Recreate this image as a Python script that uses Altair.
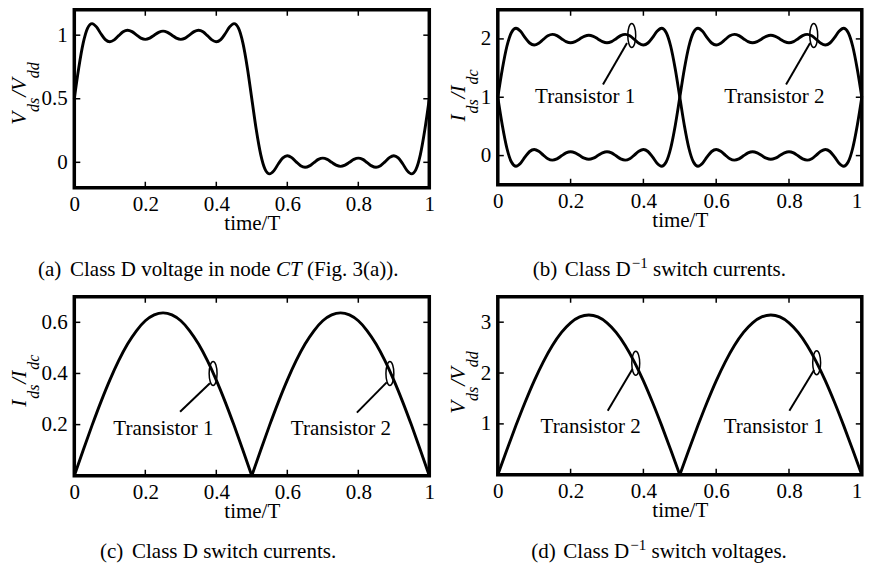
import altair as alt
import pandas as pd

FONT = "Liberation Serif, Times New Roman, Times, serif"

# ---------------- data ----------------
T81 = [0.0, 0.0125, 0.025, 0.0375, 0.05, 0.0625, 0.075, 0.0875,
       0.1, 0.1125, 0.125, 0.1375, 0.15, 0.1625, 0.175, 0.1875,
       0.2, 0.2125, 0.225, 0.2375, 0.25, 0.2625, 0.275, 0.2875,
       0.3, 0.3125, 0.325, 0.3375, 0.35, 0.3625, 0.375, 0.3875,
       0.4, 0.4125, 0.425, 0.4375, 0.45, 0.4625, 0.475, 0.4875,
       0.5, 0.5125, 0.525, 0.5375, 0.55, 0.5625, 0.575, 0.5875,
       0.6, 0.6125, 0.625, 0.6375, 0.65, 0.6625, 0.675, 0.6875,
       0.7, 0.7125, 0.725, 0.7375, 0.75, 0.7625, 0.775, 0.7875,
       0.8, 0.8125, 0.825, 0.8375, 0.85, 0.8625, 0.875, 0.8875,
       0.9, 0.9125, 0.925, 0.9375, 0.95, 0.9625, 0.975, 0.9875,
       1.0]

# (a) Vds/Vdd, class D node CT
VA = [0.500, 0.742, 0.937, 1.055, 1.091, 1.065, 1.011, 0.965,
      0.948, 0.963, 0.996, 1.027, 1.039, 1.028, 1.002, 0.977,
      0.967, 0.977, 1.000, 1.022, 1.032, 1.022, 1.000, 0.977,
      0.967, 0.977, 1.002, 1.028, 1.039, 1.027, 0.996, 0.963,
      0.948, 0.965, 1.011, 1.065, 1.091, 1.055, 0.937, 0.742,
      0.500, 0.258, 0.063, -0.055, -0.091, -0.065, -0.011, 0.035,
      0.052, 0.037, 0.004, -0.027, -0.039, -0.028, -0.002, 0.023,
      0.033, 0.023, 0.000, -0.022, -0.032, -0.022, 0.000, 0.023,
      0.033, 0.023, -0.002, -0.028, -0.039, -0.027, 0.004, 0.037,
      0.052, 0.035, -0.011, -0.065, -0.091, -0.055, 0.063, 0.258,
      0.500]

# (b) Ids/Idc, class D^-1, transistor 1 and 2
IB1 = [1.000, 1.484, 1.874, 2.110, 2.182, 2.130, 2.022, 1.930,
       1.896, 1.926, 1.992, 2.054, 2.078, 2.056, 2.004, 1.954,
       1.934, 1.954, 2.000, 2.044, 2.064, 2.044, 2.000, 1.954,
       1.934, 1.954, 2.004, 2.056, 2.078, 2.054, 1.992, 1.926,
       1.896, 1.930, 2.022, 2.130, 2.182, 2.110, 1.874, 1.484,
       1.000, 0.516, 0.126, -0.110, -0.182, -0.130, -0.022, 0.070,
       0.104, 0.074, 0.008, -0.054, -0.078, -0.056, -0.004, 0.046,
       0.066, 0.046, 0.000, -0.044, -0.064, -0.044, 0.000, 0.046,
       0.066, 0.046, -0.004, -0.056, -0.078, -0.054, 0.008, 0.074,
       0.104, 0.070, -0.022, -0.130, -0.182, -0.110, 0.126, 0.516,
       1.000]
IB2 = [1.000, 0.516, 0.126, -0.110, -0.182, -0.130, -0.022, 0.070,
       0.104, 0.074, 0.008, -0.054, -0.078, -0.056, -0.004, 0.046,
       0.066, 0.046, 0.000, -0.044, -0.064, -0.044, 0.000, 0.046,
       0.066, 0.046, -0.004, -0.056, -0.078, -0.054, 0.008, 0.074,
       0.104, 0.070, -0.022, -0.130, -0.182, -0.110, 0.126, 0.516,
       1.000, 1.484, 1.874, 2.110, 2.182, 2.130, 2.022, 1.930,
       1.896, 1.926, 1.992, 2.054, 2.078, 2.056, 2.004, 1.954,
       1.934, 1.954, 2.000, 2.044, 2.064, 2.044, 2.000, 1.954,
       1.934, 1.954, 2.004, 2.056, 2.078, 2.054, 1.992, 1.926,
       1.896, 1.930, 2.022, 2.130, 2.182, 2.110, 1.874, 1.484,
       1.000]

T_H1 = [0.0, 0.025, 0.05, 0.075, 0.1, 0.125, 0.15, 0.175, 0.2, 0.225, 0.25,
        0.275, 0.3, 0.325, 0.35, 0.375, 0.4, 0.425, 0.45, 0.475, 0.5]
T_H2 = [0.5, 0.525, 0.55, 0.575, 0.6, 0.625, 0.65, 0.675, 0.7, 0.725, 0.75,
        0.775, 0.8, 0.825, 0.85, 0.875, 0.9, 0.925, 0.95, 0.975, 1.0]

# (c) Ids/Idc, class D switch currents
IC_1 = [0.000, 0.100, 0.197, 0.289, 0.374, 0.450, 0.515, 0.567, 0.606, 0.629, 0.637,
        0.629, 0.606, 0.567, 0.515, 0.450, 0.374, 0.289, 0.197, 0.100, 0.000]
IC_2 = [0.000, 0.100, 0.197, 0.289, 0.374, 0.450, 0.515, 0.567, 0.606, 0.629, 0.637,
        0.629, 0.606, 0.567, 0.515, 0.450, 0.374, 0.289, 0.197, 0.100, 0.000]

# (d) Vds/Vdd, class D^-1 switch voltages
VD_1 = [0.000, 0.491, 0.971, 1.426, 1.847, 2.221, 2.542, 2.799, 2.988, 3.103, 3.142,
        3.103, 2.988, 2.799, 2.542, 2.221, 1.847, 1.426, 0.971, 0.491, 0.000]
VD_2 = [0.000, 0.491, 0.971, 1.426, 1.847, 2.221, 2.542, 2.799, 2.988, 3.103, 3.142,
        3.103, 2.988, 2.799, 2.542, 2.221, 1.847, 1.426, 0.971, 0.491, 0.000]

X_TICKS = [0, 0.2, 0.4, 0.6, 0.8, 1]
YA_TICKS = [0, 0.5, 1]
YB_TICKS = [0, 1, 2]
YC_TICKS = [0.2, 0.4, 0.6]
YD_TICKS = [1, 2, 3]

# annotations: ellipse centres, leader lines, labels (data coordinates)
B_ELL_T = [0.368, 0.868]; B_ELL_V = [2.06, 2.06]
B_LD_T = [0.355, 0.858]; B_LD_V = [1.93, 1.93]; B_LD_T2 = [0.289, 0.792]; B_LD_V2 = [1.22, 1.22]
B_LAB_T = [0.240, 0.760]; B_LAB_V = [0.90, 0.90]; B_LAB = ["Transistor 1", "Transistor 2"]

C_ELL_T = [0.391, 0.889]; C_ELL_V = [0.40, 0.40]
C_LD_T = [0.382, 0.880]; C_LD_V = [0.362, 0.365]; C_LD_T2 = [0.298, 0.796]; C_LD_V2 = [0.250, 0.247]
C_LAB_T = [0.251, 0.751]; C_LAB_V = [0.159, 0.159]; C_LAB = ["Transistor 1", "Transistor 2"]

D_ELL_T = [0.379, 0.876]; D_ELL_V = [2.19, 2.20]
D_LD_T = [0.370, 0.869]; D_LD_V = [2.08, 2.06]; D_LD_T2 = [0.302, 0.801]; D_LD_V2 = [1.26, 1.26]
D_LAB_T = [0.255, 0.758]; D_LAB_V = [0.82, 0.82]; D_LAB = ["Transistor 2", "Transistor 1"]

ELLIPSE = ("M0,-1C0.182,-1,0.33,-0.552,0.33,0C0.33,0.552,0.182,1,0,1"
           "C-0.182,1,-0.33,0.552,-0.33,0C-0.33,-0.552,-0.182,-1,0,-1Z")

ONE = pd.DataFrame({"k": [0]})


def xenc(last_right=False):
    extra = {}
    if last_right:
        extra["labelAlign"] = alt.ConditionalAxisLabelAlign(
            condition={"test": "datum.value >= 1", "value": "right"}, value="center")
    return alt.X("t:Q", scale=alt.Scale(domain=[0, 1], nice=False, zero=False),
                 axis=alt.Axis(values=X_TICKS, format="~g", labelFont=FONT, labelFontSize=21,
                               labelColor="black", labelPadding=6, ticks=False, tickSize=0,
                               domain=False, grid=False, labelFlush=False, labelOverlap=False,
                               title="time/T", titleFont=FONT, titleFontSize=21,
                               titleFontWeight="normal", titleColor="black",
                               titleBaseline="alphabetic", titleY=42, **extra))


def yenc(dom, vals):
    return alt.Y("v:Q", scale=alt.Scale(domain=dom, nice=False, zero=False),
                 axis=alt.Axis(values=vals, format="~g", labelFont=FONT, labelFontSize=21,
                               labelColor="black", labelPadding=7, ticks=False, tickSize=0,
                               domain=False, grid=False, labelFlush=False, labelOverlap=False,
                               title=None))


def piece(s, x, y, size=21, italic=False, angle=0, dx=0, dy=0):
    kw = dict(text=s, font=FONT, fontSize=size, color="black", align="left",
              baseline="alphabetic", dx=dx, dy=dy)
    if italic:
        kw["fontStyle"] = "italic"
    if angle:
        kw["angle"] = angle
    return alt.Chart(ONE).mark_text(**kw).encode(x=alt.value(x), y=alt.value(y))


def ytitle(main, sub1, sub2, x, y, steps):
    d0, d1, d2, d3, d4 = steps
    return [
        piece(main, x, y, 21, True, 270, d0, 0),
        piece(sub1, x, y, 16, True, 270, d1, 13),
        piece("/", x, y, 21, True, 270, d2, 0),
        piece(main, x, y, 21, True, 270, d3, 0),
        piece(sub2, x, y, 16, True, 270, d4, 13),
    ]


def panel(w, h, dom, yvals, curves, ann, ttl, cap, right_col=False):
    X = xenc(right_col)
    Y = yenc(dom, yvals)
    layers = []
    layers.append(alt.Chart(curves).mark_line(color="black", strokeWidth=2.9,
                                              interpolate="monotone")
                  .encode(x=X, y=Y, detail="s:N"))
    xt = pd.DataFrame({"t": X_TICKS[1:-1]})
    yt = pd.DataFrame({"v": yvals})
    tk = dict(color="black", strokeWidth=1.5)
    layers.append(alt.Chart(xt).mark_rule(**tk).encode(x=X, y=alt.value(h), y2=alt.value(h - 6)))
    layers.append(alt.Chart(xt).mark_rule(**tk).encode(x=X, y=alt.value(0), y2=alt.value(6)))
    layers.append(alt.Chart(yt).mark_rule(**tk).encode(y=Y, x=alt.value(0), x2=alt.value(6)))
    layers.append(alt.Chart(yt).mark_rule(**tk).encode(y=Y, x=alt.value(w), x2=alt.value(w - 6)))
    if ann is not None:
        et, ev, lt, lv, lt2, lv2, tt, tv, tl = ann
        layers.append(alt.Chart(pd.DataFrame({"t": et, "v": ev}))
                      .mark_point(shape=ELLIPSE, size=576, filled=False, color="black",
                                  strokeWidth=1.5, opacity=1)
                      .encode(x=X, y=Y))
        layers.append(alt.Chart(pd.DataFrame({"t": lt, "v": lv, "t2": lt2, "v2": lv2}))
                      .mark_rule(color="black", strokeWidth=2)
                      .encode(x=X, y=Y, x2="t2:Q", y2="v2:Q"))
        layers.append(alt.Chart(pd.DataFrame({"t": tt, "v": tv, "lab": tl}))
                      .mark_text(font=FONT, fontSize=21, color="black", align="center",
                                 baseline="alphabetic")
                      .encode(x=X, y=Y, text="lab:N"))
    layers += ttl
    layers += cap
    return alt.layer(*layers).properties(width=w, height=h)


dfa = pd.DataFrame({"t": T81, "v": VA, "s": ["a"] * len(T81)})
dfb = pd.concat([pd.DataFrame({"t": T81, "v": IB1, "s": ["Transistor 1"] * len(T81)}),
                 pd.DataFrame({"t": T81, "v": IB2, "s": ["Transistor 2"] * len(T81)})])
dfc = pd.concat([pd.DataFrame({"t": T_H1, "v": IC_1, "s": ["Transistor 1"] * len(T_H1)}),
                 pd.DataFrame({"t": T_H2, "v": IC_2, "s": ["Transistor 2"] * len(T_H2)})])
dfd = pd.concat([pd.DataFrame({"t": T_H1, "v": VD_1, "s": ["Transistor 2"] * len(T_H1)}),
                 pd.DataFrame({"t": T_H2, "v": VD_2, "s": ["Transistor 1"] * len(T_H2)})])

CAP_TOP = 266      # caption baseline, top row (relative to plot top)
CAP_BOT = 261      # caption baseline, bottom row
SUP = "\u22121"

cap_a = [piece("(a)", -36.3, CAP_TOP), piece("Class D voltage in node", -4.3, CAP_TOP),
         piece("CT", 201.7, CAP_TOP, italic=True), piece("(Fig. 3(a)).", 232.7, CAP_TOP)]
BX = 35.0
cap_b = [piece("(b)", BX, CAP_TOP), piece("Class D", BX + 32, CAP_TOP),
         piece(SUP, BX + 98.9, CAP_TOP - 8, size=15), piece("switch currents.", BX + 120.2, CAP_TOP)]
cap_c = [piece("(c)", 25.7, CAP_BOT), piece("Class D switch currents.", 57.7, CAP_BOT)]
DX = 33.5
cap_d = [piece("(d)", DX, CAP_BOT), piece("Class D", DX + 32, CAP_BOT),
         piece(SUP, DX + 98.9, CAP_BOT - 8, size=15), piece("switch voltages.", DX + 120.2, CAP_BOT)]

V_STEPS = (0, 12.8, 28.0, 33.8, 46.6)
I_STEPS = (0, 8.0, 23.0, 29.0, 37.0)

W_L, W_R = 355, 364
pa = panel(W_L, 178, [-0.2, 1.2], YA_TICKS, dfa, None,
           ytitle("V", "ds", "dd", -48.3, 115, V_STEPS), cap_a)
pb = panel(W_R, 175, [-0.5, 2.5], YB_TICKS, dfb,
           (B_ELL_T, B_ELL_V, B_LD_T, B_LD_V, B_LD_T2, B_LD_V2, B_LAB_T, B_LAB_V, B_LAB),
           ytitle("I", "ds", "dc", -33, 111.7, I_STEPS), cap_b, True)
pc = panel(W_L, 179, [0, 0.7], YC_TICKS, dfc,
           (C_ELL_T, C_ELL_V, C_LD_T, C_LD_V, C_LD_T2, C_LD_V2, C_LAB_T, C_LAB_V, C_LAB),
           ytitle("I", "ds", "dc", -48.3, 110, I_STEPS), cap_c)
pd_ = panel(W_R, 178, [0, 3.5], YD_TICKS, dfd,
            (D_ELL_T, D_ELL_V, D_LD_T, D_LD_V, D_LD_T2, D_LD_V2, D_LAB_T, D_LAB_V, D_LAB),
            ytitle("V", "ds", "dd", -33, 117, V_STEPS), cap_d, True)

PAD_L, PAD_T = 66.3, 1.75
SVG_W, SVG_H = 856, 555

chart = (alt.concat(pa, pb, pc, pd_, columns=2, spacing={"row": 109, "column": 68.5},
                    bounds="flush")
         .properties(autosize=alt.AutoSizeParams(type="none"),
                     padding={"left": PAD_L, "top": PAD_T,
                              "right": SVG_W - PAD_L, "bottom": SVG_H - PAD_T})
         .configure_view(stroke="black", strokeWidth=3.5))

chart.save("out.html", embed_options={"renderer": "svg", "actions": False})
